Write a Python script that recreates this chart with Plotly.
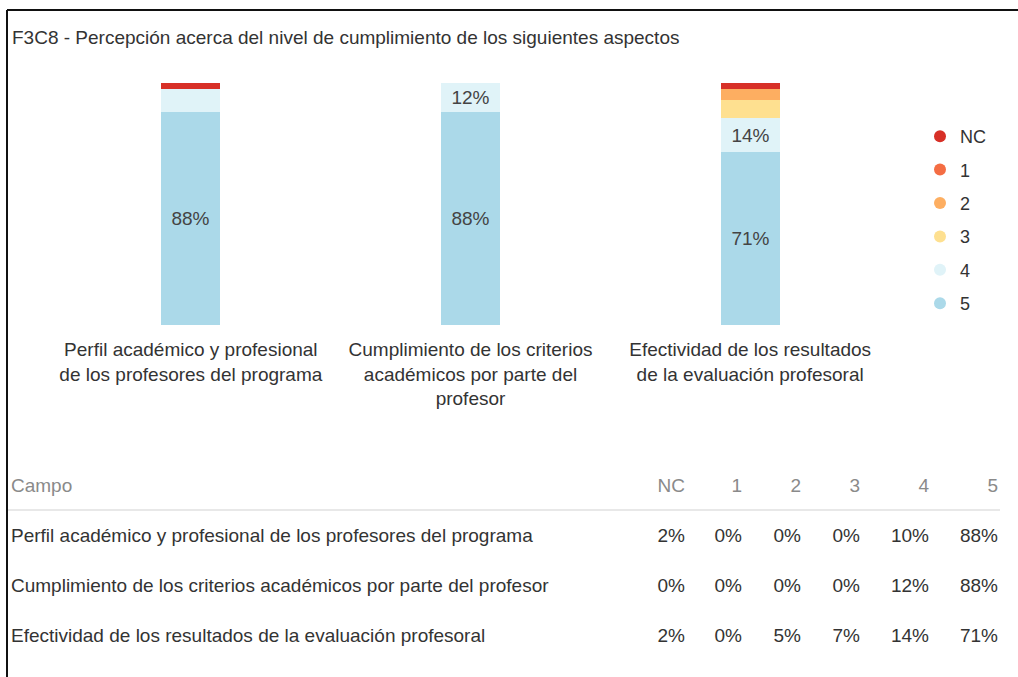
import plotly.graph_objects as go

# Datos
categorias = [
    "Perfil académico y profesional de los profesores del programa",
    "Cumplimiento de los criterios académicos por parte del profesor",
    "Efectividad de los resultados de la evaluación profesoral",
]
etiquetas_eje = [
    "Perfil académico y profesional<br>de los profesores del programa",
    "Cumplimiento de los criterios<br>académicos por parte del<br>profesor",
    "Efectividad de los resultados<br>de la evaluación profesoral",
]
niveles = ["NC", "1", "2", "3", "4", "5"]
pct_nc = [2.4, 0.0, 2.4]
pct_1 = [0.0, 0.0, 0.0]
pct_2 = [0.0, 0.0, 4.8]
pct_3 = [0.0, 0.0, 7.1]
pct_4 = [9.5, 11.9, 14.3]
pct_5 = [88.1, 88.1, 71.4]
colores = ["#d73027", "#f46d43", "#fdae61", "#fee090", "#e0f3f8", "#abd9e9"]

series = [pct_nc, pct_1, pct_2, pct_3, pct_4, pct_5]

W, H = 1018, 677
FONT = "Arial, Liberation Sans, sans-serif"
FS = 19

fig = go.Figure()

# Barras apiladas (de abajo hacia arriba: 5, 4, 3, 2, 1, NC)
for nivel, vals, color in reversed(list(zip(niveles, series, colores))):
    textos = [f"{v:.0f}%" if v >= 11 else "" for v in vals]
    fig.add_trace(go.Bar(
        x=etiquetas_eje, y=vals, name=nivel, marker_color=color,
        marker_line_width=0, width=0.21, text=textos,
        textposition="inside", insidetextanchor="middle", constraintext="none",
        textfont=dict(size=FS, color="#444", family=FONT),
        showlegend=False, hoverinfo="skip",
    ))

# Leyenda con circulos
for nivel, color in zip(niveles, colores):
    fig.add_trace(go.Scatter(
        x=[None], y=[None], mode="markers", name=nivel, legendgroup=nivel,
        marker=dict(color=color, size=13, symbol="circle"),
    ))

# Tabla
filas_tabla = [[f"{v:.0f}%" for v in s] for s in series]
fig.add_trace(go.Table(
    domain=dict(x=[3 / W, 1006 / W], y=[0.0, 1 - 470 / H]),
    columnwidth=[620, 70, 57, 59, 59, 69, 69],
    header=dict(
        values=["Campo"] + niveles, height=50,
        align=["left"] + ["right"] * 6,
        fill_color="white", line_color="white",
        font=dict(size=FS, color="#8a8a8a", family=FONT),
    ),
    cells=dict(
        values=[categorias] + filas_tabla, height=50,
        align=["left"] + ["right"] * 6,
        fill_color="white", line_color="white",
        font=dict(size=FS, color="#333", family=FONT),
    ),
))

fig.update_layout(
    width=W, height=H,
    margin=dict(l=0, r=0, t=0, b=0),
    paper_bgcolor="white", plot_bgcolor="white",
    barmode="stack", bargap=0.0,
    font=dict(family=FONT, size=FS, color="#333"),
    title=dict(
        text="F3C8 - Percepción acerca del nivel de cumplimiento de los siguientes aspectos",
        x=12 / W, xanchor="left", y=1 - 37 / H, yanchor="middle",
        font=dict(size=FS, color="#333"),
    ),
    xaxis=dict(
        domain=[51 / W, 890 / W], range=[-0.5, 2.5],
        showgrid=False, showline=False, zeroline=False, ticks="",
        tickfont=dict(size=FS, color="#333"), ticklabelstandoff=11,
    ),
    yaxis=dict(
        domain=[1 - 325 / H, 1 - 83 / H], range=[0, 100],
        showgrid=False, showline=False, zeroline=False, showticklabels=False,
    ),
    legend=dict(
        x=920 / W, y=1 - 118 / H, xanchor="left", yanchor="top",
        traceorder="grouped", tracegroupgap=7,
        font=dict(size=FS - 1, color="#333"), itemsizing="constant",
    ),
    shapes=[
        dict(type="line", xref="paper", yref="paper", x0=7 / W, x1=1,
             y0=1 - 10 / H, y1=1 - 10 / H, line=dict(color="#111", width=2)),
        dict(type="line", xref="paper", yref="paper", x0=7 / W, x1=7 / W,
             y0=0, y1=1 - 10 / H, line=dict(color="#111", width=2)),
        dict(type="line", xref="paper", yref="paper", x0=8 / W, x1=1000 / W,
             y0=1 - 510 / H, y1=1 - 510 / H, line=dict(color="#e8e8e8", width=2)),
    ],
)

fig.write_html("out.html", config={"displayModeBar": False},
               post_script="document.body.style.margin='0';")
